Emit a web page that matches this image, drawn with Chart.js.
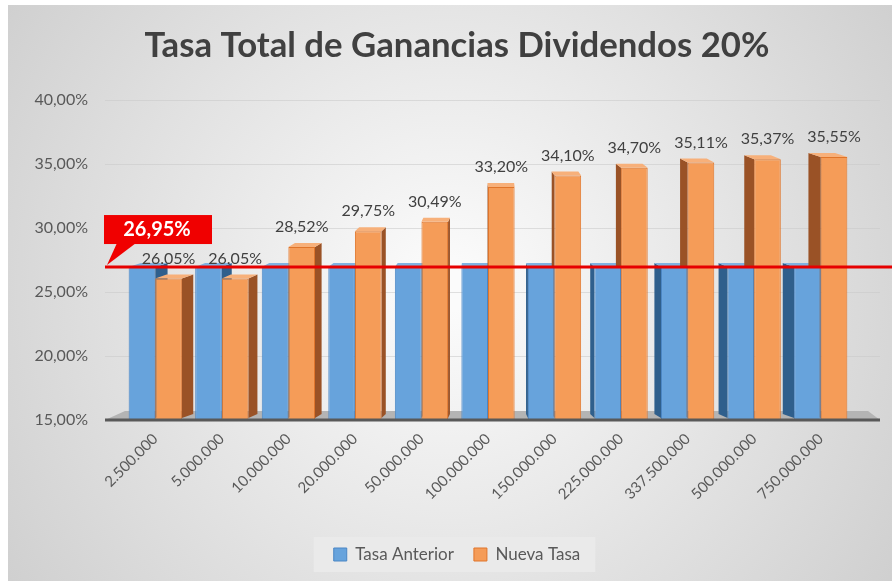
<!DOCTYPE html>
<html>
<head>
<meta charset="utf-8">
<script src="https://cdn.jsdelivr.net/npm/chart.js@4.4.0/dist/chart.umd.min.js"></script>
<style>
  html, body { margin: 0; padding: 0; background: #fff; }
  #wrap { width: 892px; height: 581px; }
</style>
</head>
<body>
<div id="wrap"><canvas id="myChart" width="892" height="581"></canvas></div>
<script>
const categories = ["2.500.000", "5.000.000", "10.000.000", "20.000.000", "50.000.000", "100.000.000",
  "150.000.000", "225.000.000", "337.500.000", "500.000.000", "750.000.000"];
const tasaAnterior = [26.95, 26.95, 26.95, 26.95, 26.95, 26.95, 26.95, 26.95, 26.95, 26.95, 26.95];
const nuevaTasa = [26.05, 26.05, 28.52, 29.75, 30.49, 33.20, 34.10, 34.70, 35.11, 35.37, 35.55];
const nuevaTasaLabels = ["26.05%", "26.05%", "28,52%", "29,75%", "30,49%", "33,20%",
  "34,10%", "34,70%", "35,11%", "35,37%", "35,55%"];
const yMin = 15, yMax = 40, yStep = 5;
const referenceLine = 26.95;
const referenceLabel = "26,95%";
const chartTitle = "Tasa Total de Ganancias Dividendos 20%";

const FONT = "Lato, 'Open Sans', sans-serif";
const sideColors = ["#2f5f8c", "#9a5226"];
const topColors = ["#7fb2e2", "#f7b07a"];
const LEGEND_SHIFT = 60;

const background = {
  id: "background",
  afterUpdate(chart) {
    // centre the legend under the whole picture rather than the plot
    if (chart.legend) chart.legend.left += LEGEND_SHIFT;
  },
  beforeDraw(chart) {
    const ctx = chart.ctx;
    ctx.save();
    ctx.fillStyle = "#fff";
    ctx.fillRect(0, 0, chart.width, chart.height);
    const g = ctx.createRadialGradient(450, 290, 20, 450, 290, 560);
    g.addColorStop(0, "#fbfbfb");
    g.addColorStop(1, "#cdcdcd");
    ctx.fillStyle = g;
    ctx.fillRect(8, 5, chart.width - 8, chart.height - 5);

    // title
    ctx.fillStyle = "#404040";
    let size = 34;
    ctx.font = "bold " + size + "px " + FONT;
    size = size * 625 / ctx.measureText(chartTitle).width;
    ctx.font = "bold " + size + "px " + FONT;
    ctx.textAlign = "center";
    ctx.textBaseline = "middle";
    ctx.fillText(chartTitle, 457, 46);

    // legend box
    const boxes = chart.legend && chart.legend.legendHitBoxes;
    if (boxes && boxes.length) {
      const dx = LEGEND_SHIFT / 2;
      const l = Math.min(...boxes.map(b => b.left)) - 20 + dx;
      const r = Math.max(...boxes.map(b => b.left + b.width)) + 15 + dx;
      const t = Math.min(...boxes.map(b => b.top)) - 9;
      const btm = Math.max(...boxes.map(b => b.top + b.height)) + 9;
      ctx.fillStyle = "#eaeaea";
      ctx.fillRect(l, t, r - l, btm - t);
    }
    ctx.restore();
  }
};

const depth = {
  id: "depth",
  beforeDatasetsDraw(chart) {
    const ctx = chart.ctx;
    const y = chart.scales.y;
    const area = chart.chartArea;
    ctx.save();
    // back wall grid lines
    ctx.strokeStyle = "rgba(200,200,200,0.55)";
    ctx.lineWidth = 1;
    for (let v = yMin + yStep; v <= yMax; v += yStep) {
      const py = Math.round(y.getPixelForValue(v)) + 0.5;
      ctx.beginPath();
      ctx.moveTo(105, py);
      ctx.lineTo(880, py);
      ctx.stroke();
    }
    // floor
    const fy = y.getPixelForValue(yMin);
    ctx.fillStyle = "#b4b4b4";
    ctx.beginPath();
    ctx.moveTo(105, fy);
    ctx.lineTo(125, fy - 9);
    ctx.lineTo(868, fy - 9);
    ctx.lineTo(880, fy);
    ctx.fill();

    // side and top faces
    const mid = (area.left + area.right) / 2;
    const half = (area.right - area.left) / 2;
    chart.data.datasets.forEach((ds, d) => {
      chart.getDatasetMeta(d).data.forEach(bar => {
        const left = bar.x - bar.width / 2, right = bar.x + bar.width / 2;
        const base = Math.min(bar.base, fy - 2);
        const w = (mid - bar.x) / half * 13;
        const rise = 4;
        const edge = w > 0 ? right : left;
        ctx.fillStyle = sideColors[d];
        ctx.beginPath();
        ctx.moveTo(edge, bar.y);
        ctx.lineTo(edge + w, bar.y - rise);
        ctx.lineTo(edge + w, base - rise);
        ctx.lineTo(edge, base);
        ctx.closePath();
        ctx.fill();
        ctx.fillStyle = topColors[d];
        ctx.beginPath();
        ctx.moveTo(left, bar.y);
        ctx.lineTo(right, bar.y);
        ctx.lineTo(right + w, bar.y - rise);
        ctx.lineTo(left + w, bar.y - rise);
        ctx.closePath();
        ctx.fill();
      });
    });
    ctx.restore();
  },
  afterDatasetsDraw(chart) {
    const ctx = chart.ctx;
    const y = chart.scales.y;
    ctx.save();
    // floor edge
    const fy = y.getPixelForValue(yMin);
    ctx.strokeStyle = "#595959";
    ctx.lineWidth = 3;
    ctx.beginPath();
    ctx.moveTo(105, fy);
    ctx.lineTo(880, fy);
    ctx.stroke();

    // value labels
    ctx.fillStyle = "#404040";
    ctx.font = "16px " + FONT;
    ctx.textAlign = "center";
    ctx.textBaseline = "middle";
    chart.getDatasetMeta(1).data.forEach((bar, i) => {
      ctx.fillText(nuevaTasaLabels[i], bar.x, bar.y - 20);
    });

    // reference line
    const ry = y.getPixelForValue(referenceLine);
    ctx.strokeStyle = "#e60000";
    ctx.lineWidth = 3;
    ctx.beginPath();
    ctx.moveTo(105, ry);
    ctx.lineTo(chart.width, ry);
    ctx.stroke();

    // callout
    ctx.fillStyle = "#f00000";
    ctx.fillRect(104, ry - 52, 108, 29);
    ctx.beginPath();
    ctx.moveTo(117, ry - 24);
    ctx.lineTo(107, ry - 2);
    ctx.lineTo(136, ry - 24);
    ctx.closePath();
    ctx.fill();
    ctx.fillStyle = "#fff";
    ctx.font = "bold 20px " + FONT;
    ctx.fillText(referenceLabel, 157, ry - 37);
    ctx.restore();
  }
};

new Chart(document.getElementById("myChart").getContext("2d"), {
  type: "bar",
  data: {
    labels: categories,
    datasets: [
      {
        label: "Tasa Anterior",
        data: tasaAnterior,
        backgroundColor: "#67a3dc",
        borderColor: "#4a86c5",
        borderWidth: 1
      },
      {
        label: "Nueva Tasa",
        data: nuevaTasa,
        backgroundColor: "#f59c58",
        borderColor: "#e0752a",
        borderWidth: 1
      }
    ]
  },
  options: {
    responsive: false,
    animation: false,
    datasets: { bar: { categoryPercentage: 0.8, barPercentage: 1.0 } },
    layout: { padding: { top: 100, right: 38, left: 0, bottom: 8 } },
    scales: {
      x: {
        grid: { display: false, drawTicks: false },
        border: { display: false },
        ticks: {
          color: "#595959",
          font: { family: FONT, size: 15 },
          minRotation: 45,
          maxRotation: 45,
          padding: 10
        },
        afterFit: s => { s.height = 106; }
      },
      y: {
        min: yMin,
        max: yMax,
        grid: { display: false, drawTicks: false },
        border: { display: false },
        ticks: {
          stepSize: yStep,
          color: "#595959",
          font: { family: FONT, size: 16 },
          padding: 34,
          callback: v => v.toFixed(2).replace(".", ",") + "%"
        },
        afterFit: s => { s.width = 122; }
      }
    },
    plugins: {
      legend: {
        position: "bottom",
        labels: {
          color: "#595959",
          font: { family: FONT, size: 17 },
          boxWidth: 13,
          boxHeight: 13,
          padding: 20
        }
      },
      tooltip: { enabled: false }
    }
  },
  plugins: [background, depth]
});
</script>
</body>
</html>
